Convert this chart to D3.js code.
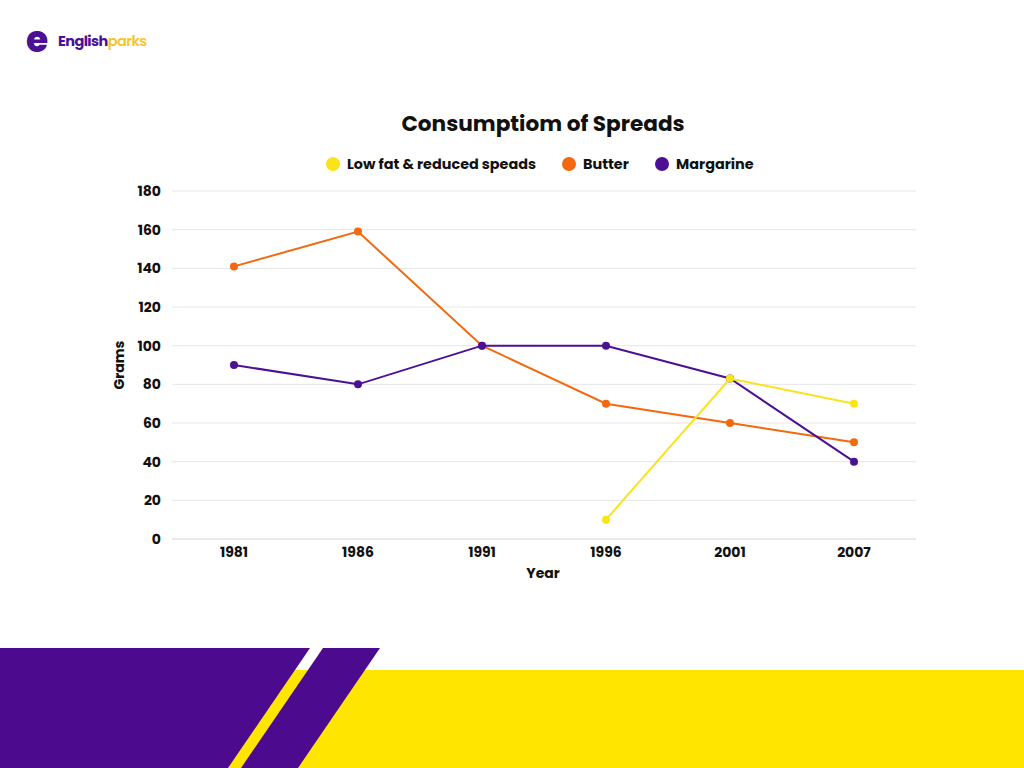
<!DOCTYPE html>
<html><head><meta charset="utf-8">
<script src="https://cdn.jsdelivr.net/npm/d3@7"></script>
<style>body{margin:0;background:#fff}svg{display:block}</style>
</head><body>
<script>
const years = ["1981","1986","1991","1996","2001","2007"];
const lowFat = [null, null, null, 10, 83, 70];
const butter = [141, 159, 100, 70, 60, 50];
const margarine = [90, 80, 100, 100, 83, 40];
const yTicks = [0,20,40,60,80,100,120,140,160,180];
const seriesNames = ["Low fat & reduced speads","Butter","Margarine"];
const seriesColors = ["#fbe31a","#f2690f","#4b1094"];
const seriesValues = [lowFat, butter, margarine];

const W=1024,H=768;
const font = "Poppins, 'Open Sans', sans-serif";
const svg = d3.select("body").append("svg").attr("width",W).attr("height",H);
svg.append("rect").attr("width",W).attr("height",H).attr("fill","#fff");

// logo
const logo = svg.append("g");
logo.append("text").attr("x",26).attr("y",52).attr("font-family",font).attr("font-weight",800)
  .attr("font-size",36).attr("fill","#4b1094").text("e");
const lt = logo.append("text").attr("x",58).attr("y",46).attr("font-family",font).attr("font-weight",700)
  .attr("font-size",14.5).attr("letter-spacing",-0.6);
lt.append("tspan").attr("fill","#4b1094").text("English");
lt.append("tspan").attr("fill","#f4c430").attr("font-weight",600).text("parks");

// bottom banner
svg.append("rect").attr("x",0).attr("y",670).attr("width",W).attr("height",98).attr("fill","#ffe500");
svg.append("polygon").attr("points","0,648 310,648 228,768 0,768").attr("fill","#4c0b8f");
svg.append("polygon").attr("points","323,648 380,648 298,768 241,768").attr("fill","#4c0b8f");

// title
svg.append("text").attr("x",543).attr("y",131).attr("text-anchor","middle").attr("font-family",font)
  .attr("font-weight",700).attr("font-size",21.6).attr("fill","#111").text("Consumptiom of Spreads");

// legend
const legX = [333, 569, 662];
seriesNames.forEach((n,i)=>{
  const g = svg.append("g");
  g.append("circle").attr("cx",legX[i]).attr("cy",164).attr("r",7).attr("fill",seriesColors[i]);
  g.append("text").attr("x",legX[i]+14).attr("y",169).attr("font-family",font).attr("font-weight",700)
    .attr("font-size",14.4).attr("fill","#111").text(n);
});

const x = d3.scaleBand().domain(years).range([172,916]);
const y = d3.scaleLinear().domain([0,180]).range([539,191]);

// grid
svg.append("g").selectAll("line").data(yTicks).join("line")
  .attr("x1",172).attr("x2",916).attr("y1",d=>y(d)).attr("y2",d=>y(d))
  .attr("stroke",(d)=>d===0?"#d6d6d6":"#e6e6e6").attr("stroke-width",1);

// y axis
const ya = svg.append("g").attr("transform","translate(172,0)")
  .call(d3.axisLeft(y).tickValues(yTicks).tickSize(0).tickPadding(11));
ya.select(".domain").remove();
ya.selectAll("text").attr("font-family",font).attr("font-weight",700).attr("font-size",14).attr("fill","#111");

// x axis
const xa = svg.append("g").attr("transform","translate(0,539)")
  .call(d3.axisBottom(x).tickSize(0).tickPadding(8));
xa.select(".domain").remove();
xa.selectAll("text").attr("font-family",font).attr("font-weight",700).attr("font-size",14).attr("fill","#111");

// axis titles
svg.append("text").attr("transform","translate(124,365) rotate(-90)").attr("text-anchor","middle")
  .attr("font-family",font).attr("font-weight",700).attr("font-size",14).attr("fill","#111").text("Grams");
svg.append("text").attr("x",543).attr("y",578).attr("text-anchor","middle")
  .attr("font-family",font).attr("font-weight",700).attr("font-size",14).attr("fill","#111").text("Year");

// lines
const cx = d=>x(d.year)+x.bandwidth()/2;
const line = d3.line().defined(d=>d.v!==null).x(cx).y(d=>y(d.v));
[1,2,0].forEach(i=>{
  const data = years.map((yr,j)=>({year:yr,v:seriesValues[i][j]}));
  svg.append("path").datum(data).attr("d",line).attr("fill","none")
    .attr("stroke",seriesColors[i]).attr("stroke-width",2);
  svg.append("g").selectAll("circle").data(data.filter(d=>d.v!==null)).join("circle")
    .attr("cx",cx).attr("cy",d=>y(d.v)).attr("r",4).attr("fill",seriesColors[i]);
});
</script>
</body></html>
